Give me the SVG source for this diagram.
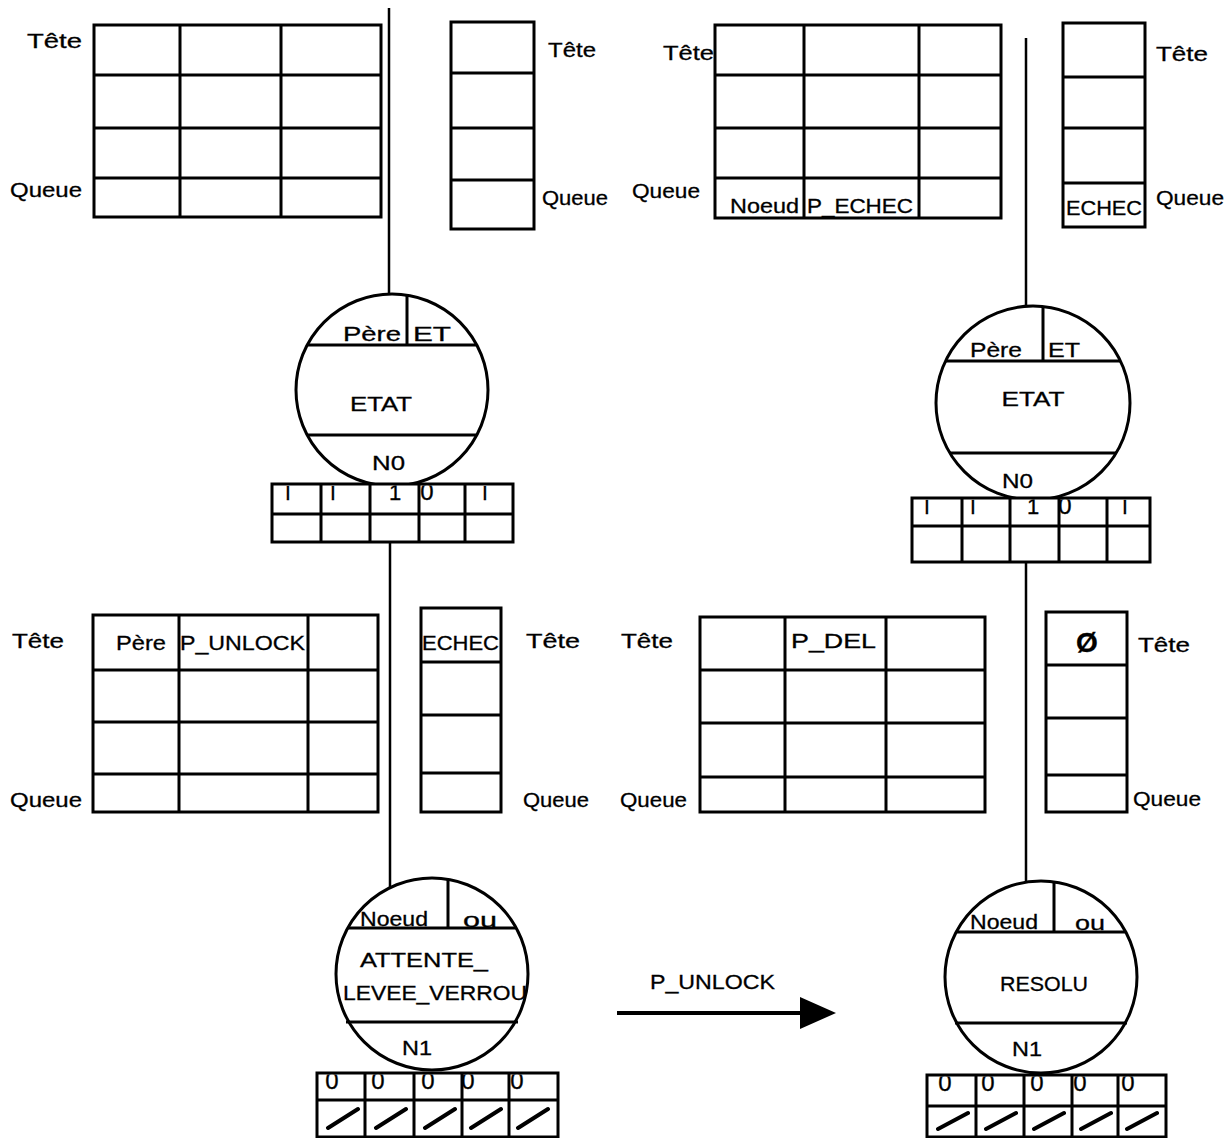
<svg xmlns="http://www.w3.org/2000/svg" width="1229" height="1138" viewBox="0 0 1229 1138">
<style>
.t{font-family:"Liberation Sans",Arial,Helvetica,sans-serif;font-size:21px;fill:#000;stroke:#000;stroke-width:0.3}
.b{font-weight:bold;font-size:28px}
.d24{font-size:24px}
.d22{font-size:22px}
.g{fill:none;stroke:#000;stroke-width:3}
.c{fill:#fff;stroke:#000;stroke-width:3}
.cn{fill:none;stroke:#000;stroke-width:2.5}
.sl{stroke:#000;stroke-width:4;stroke-linecap:round;fill:none}
</style>
<defs>
<marker id="ah" markerUnits="userSpaceOnUse" markerWidth="38" markerHeight="34" refX="0" refY="16" orient="auto">
<path d="M0,0 L36,16 L0,32 Z" fill="#000"/>
</marker>
<clipPath id="k1"><rect x="273.5" y="485.5" width="238" height="27"/></clipPath>
<clipPath id="k2"><rect x="913.5" y="499.5" width="235" height="25"/></clipPath>
<clipPath id="k3"><rect x="318.5" y="1074.5" width="238" height="24"/></clipPath>
<clipPath id="k4"><rect x="928.5" y="1076.5" width="236" height="28"/></clipPath>
</defs>
<rect width="1229" height="1138" fill="#fff"/>

<g id="connectors">
<path class="cn" d="M389 8V296"/>
<path class="cn" d="M390 542V888"/>
<path class="cn" d="M1026 38V307"/>
<path class="cn" d="M1026 562V881"/>
<path d="M617 1013H800" stroke="#000" stroke-width="4" fill="none" marker-end="url(#ah)"/>
<text class="t" x="650" y="989" textLength="125" lengthAdjust="spacingAndGlyphs">P_UNLOCK</text>
</g>

<g id="tl-files">
<text class="t" x="27" y="48" textLength="55" lengthAdjust="spacingAndGlyphs">Tête</text>
<text class="t" x="10" y="197" textLength="72" lengthAdjust="spacingAndGlyphs">Queue</text>
<rect class="g" x="94" y="25" width="287" height="192"/>
<path class="g" d="M180 25V217M281 25V217M94 75H381M94 128H381M94 178H381"/>
</g>
<g id="tl-pile">
<rect class="g" x="451" y="22" width="83" height="207"/>
<path class="g" d="M451 73H534M451 128H534M451 180H534"/>
<text class="t" x="548" y="57" textLength="48" lengthAdjust="spacingAndGlyphs">Tête</text>
<text class="t" x="542" y="205" textLength="66" lengthAdjust="spacingAndGlyphs">Queue</text>
</g>

<g id="tr-files">
<text class="t" x="663" y="60" textLength="51" lengthAdjust="spacingAndGlyphs">Tête</text>
<text class="t" x="632" y="198" textLength="68" lengthAdjust="spacingAndGlyphs">Queue</text>
<rect class="g" x="715" y="25" width="286" height="193"/>
<path class="g" d="M804 25V218M919 25V218M715 75H1001M715 128H1001M715 178H1001"/>
<text class="t" x="730" y="213" textLength="69" lengthAdjust="spacingAndGlyphs">Noeud</text>
<text class="t" x="807" y="213" textLength="106" lengthAdjust="spacingAndGlyphs">P_ECHEC</text>
</g>
<g id="tr-pile">
<rect class="g" x="1063" y="23" width="82" height="204"/>
<path class="g" d="M1063 77H1145M1063 128H1145M1063 183H1145"/>
<text class="t" x="1066" y="215" textLength="76" lengthAdjust="spacingAndGlyphs">ECHEC</text>
<text class="t" x="1156" y="61" textLength="52" lengthAdjust="spacingAndGlyphs">Tête</text>
<text class="t" x="1156" y="205" textLength="68" lengthAdjust="spacingAndGlyphs">Queue</text>
</g>

<g id="ml-files">
<text class="t" x="12" y="648" textLength="52" lengthAdjust="spacingAndGlyphs">Tête</text>
<text class="t" x="10" y="807" textLength="72" lengthAdjust="spacingAndGlyphs">Queue</text>
<rect class="g" x="93" y="615" width="285" height="197"/>
<path class="g" d="M179 615V812M308 615V812M93 670H378M93 722H378M93 774H378"/>
<text class="t" x="116" y="650" textLength="50" lengthAdjust="spacingAndGlyphs">Père</text>
<text class="t" x="180" y="650" textLength="125" lengthAdjust="spacingAndGlyphs">P_UNLOCK</text>
</g>
<g id="ml-pile">
<rect class="g" x="421" y="608" width="80" height="204"/>
<path class="g" d="M421 662H501M421 715H501M421 773H501"/>
<text class="t" x="422" y="650" textLength="77" lengthAdjust="spacingAndGlyphs">ECHEC</text>
<text class="t" x="526" y="648" textLength="54" lengthAdjust="spacingAndGlyphs">Tête</text>
<text class="t" x="523" y="807" textLength="66" lengthAdjust="spacingAndGlyphs">Queue</text>
</g>

<g id="mr-files">
<text class="t" x="621" y="648" textLength="52" lengthAdjust="spacingAndGlyphs">Tête</text>
<text class="t" x="620" y="807" textLength="67" lengthAdjust="spacingAndGlyphs">Queue</text>
<rect class="g" x="700" y="617" width="285" height="195"/>
<path class="g" d="M785 617V812M886 617V812M700 670H985M700 723H985M700 777H985"/>
<text class="t" x="791" y="648" textLength="85" lengthAdjust="spacingAndGlyphs">P_DEL</text>
</g>
<g id="mr-pile">
<rect class="g" x="1046" y="612" width="81" height="200"/>
<path class="g" d="M1046 665H1127M1046 718H1127M1046 775H1127"/>
<text class="t b" x="1087" y="652" text-anchor="middle">Ø</text>
<text class="t" x="1138" y="652" textLength="52" lengthAdjust="spacingAndGlyphs">Tête</text>
<text class="t" x="1133" y="806" textLength="68" lengthAdjust="spacingAndGlyphs">Queue</text>
</g>

<g id="node-n0-left">
<circle class="c" cx="392" cy="390" r="96"/>
<path class="g" d="M307 345H477M407 295V345M307 435H477"/>
<text class="t" x="343" y="341" textLength="58" lengthAdjust="spacingAndGlyphs">Père</text>
<text class="t" x="413" y="341" textLength="38" lengthAdjust="spacingAndGlyphs">ET</text>
<text class="t" x="381" y="411" text-anchor="middle" textLength="62" lengthAdjust="spacingAndGlyphs">ETAT</text>
<text class="t" x="372" y="470" textLength="33" lengthAdjust="spacingAndGlyphs">N0</text>
<rect class="c" x="272" y="484" width="241" height="58"/>
<path class="g" d="M272 514H513M321 484V542M370 484V542M419 484V542M465 484V542"/>
<g clip-path="url(#k1)">
<text class="t" x="288" y="500" text-anchor="middle">I</text>
<text class="t" x="333" y="500" text-anchor="middle">I</text>
<text class="t d22" x="395" y="500" text-anchor="middle">1</text>
<text class="t d24" x="427" y="500" text-anchor="middle">0</text>
<text class="t" x="485" y="500" text-anchor="middle">I</text>
</g>
</g>

<g id="node-n0-right">
<circle class="c" cx="1033" cy="403" r="97"/>
<path class="g" d="M946 361H1120M1043 306V361M950 453H1116"/>
<text class="t" x="970" y="357" textLength="52" lengthAdjust="spacingAndGlyphs">Père</text>
<text class="t" x="1048" y="357" textLength="32" lengthAdjust="spacingAndGlyphs">ET</text>
<text class="t" x="1033" y="406" text-anchor="middle" textLength="63" lengthAdjust="spacingAndGlyphs">ETAT</text>
<text class="t" x="1002" y="488" textLength="31" lengthAdjust="spacingAndGlyphs">N0</text>
<rect class="c" x="912" y="498" width="238" height="64"/>
<path class="g" d="M912 526H1150M962 498V562M1010 498V562M1059 498V562M1107 498V562"/>
<g clip-path="url(#k2)">
<text class="t" x="927" y="514" text-anchor="middle">I</text>
<text class="t" x="973" y="514" text-anchor="middle">I</text>
<text class="t d22" x="1033" y="514" text-anchor="middle">1</text>
<text class="t d24" x="1065" y="514" text-anchor="middle">0</text>
<text class="t" x="1125" y="514" text-anchor="middle">I</text>
</g>
</g>

<g id="node-n1-left">
<circle class="c" cx="432" cy="974" r="96"/>
<path class="g" d="M348 928H516M448 879V928M346 1022H518"/>
<text class="t" x="360" y="926" textLength="68" lengthAdjust="spacingAndGlyphs">Noeud</text>
<text class="t" x="463" y="927" textLength="34" lengthAdjust="spacingAndGlyphs">ou</text>
<text class="t" x="360" y="967" textLength="128" lengthAdjust="spacingAndGlyphs">ATTENTE_</text>
<text class="t" x="343" y="1000" textLength="184" lengthAdjust="spacingAndGlyphs">LEVEE_VERROU</text>
<text class="t" x="402" y="1055" textLength="30" lengthAdjust="spacingAndGlyphs">N1</text>
<rect class="c" x="317" y="1073" width="241" height="64"/>
<path class="g" d="M317 1100H558M365 1073V1137M414 1073V1137M462 1073V1137M509 1073V1137"/>
<g clip-path="url(#k3)">
<text class="t d24" x="332" y="1089" text-anchor="middle">0</text>
<text class="t d24" x="378" y="1089" text-anchor="middle">0</text>
<text class="t d24" x="428" y="1089" text-anchor="middle">0</text>
<text class="t d24" x="468" y="1089" text-anchor="middle">0</text>
<text class="t d24" x="517" y="1089" text-anchor="middle">0</text>
</g>
<path class="sl" d="M328 1128L358 1109M376 1128L406 1109M425 1128L455 1109M471 1128L501 1109M518 1128L548 1109"/>
</g>

<g id="node-n1-right">
<circle class="c" cx="1041" cy="977" r="96"/>
<path class="g" d="M956 932H1126M1054 882V932M955 1023H1127"/>
<text class="t" x="970" y="929" textLength="68" lengthAdjust="spacingAndGlyphs">Noeud</text>
<text class="t" x="1075" y="930" textLength="30" lengthAdjust="spacingAndGlyphs">ou</text>
<text class="t" x="1000" y="991" textLength="88" lengthAdjust="spacingAndGlyphs">RESOLU</text>
<text class="t" x="1012" y="1056" textLength="30" lengthAdjust="spacingAndGlyphs">N1</text>
<rect class="c" x="927" y="1075" width="239" height="62"/>
<path class="g" d="M927 1106H1166M976 1075V1137M1024 1075V1137M1072 1075V1137M1118 1075V1137"/>
<g clip-path="url(#k4)">
<text class="t d24" x="945" y="1091" text-anchor="middle">0</text>
<text class="t d24" x="988" y="1091" text-anchor="middle">0</text>
<text class="t d24" x="1037" y="1091" text-anchor="middle">0</text>
<text class="t d24" x="1080" y="1091" text-anchor="middle">0</text>
<text class="t d24" x="1128" y="1091" text-anchor="middle">0</text>
</g>
<path class="sl" d="M938 1129L968 1113M986 1129L1016 1113M1034 1129L1064 1113M1081 1129L1111 1113M1127 1129L1157 1113"/>
</g>
</svg>
